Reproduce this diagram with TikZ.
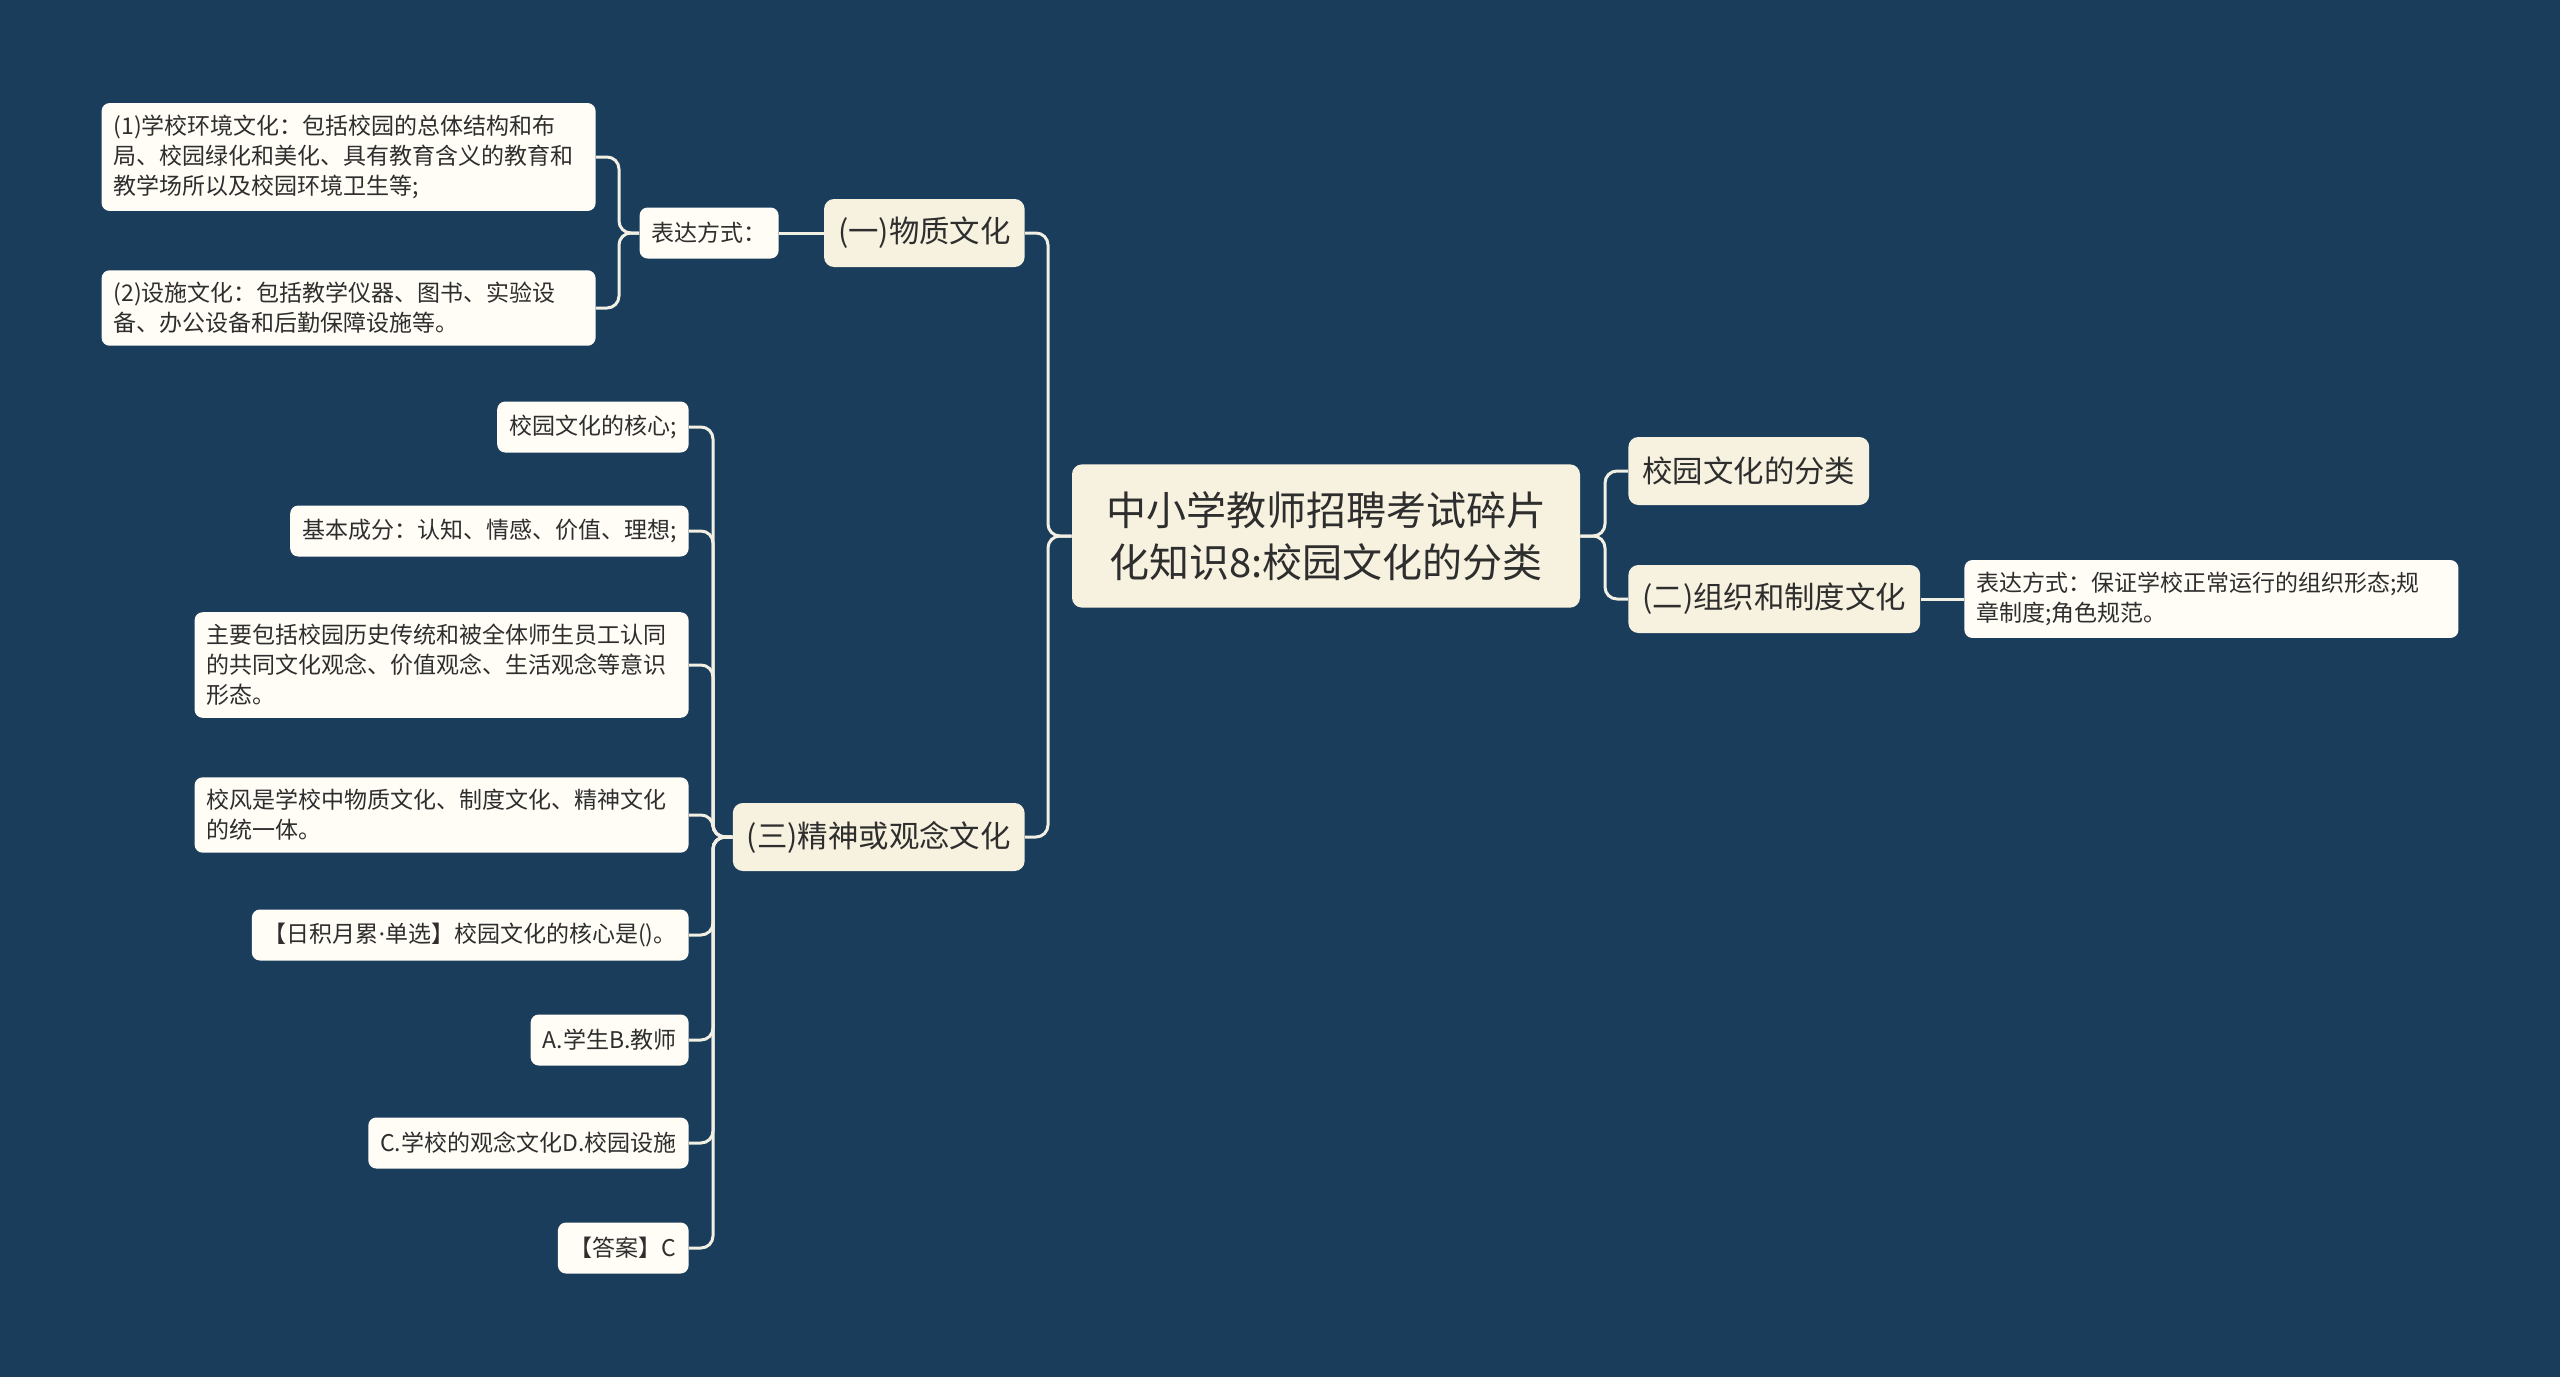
\documentclass[tikz,border=0pt]{standalone}
\usepackage{fontspec}
\setmainfont{Noto Sans CJK SC}
\newfontfamily\latinfont{Noto Sans}

\definecolor{bgblue}{HTML}{1A3D5C}
\definecolor{topicfill}{HTML}{F7F2DF}
\definecolor{leaffill}{HTML}{FFFDF6}
\definecolor{ink}{HTML}{2E2E2E}
\definecolor{wire}{HTML}{F2EFE3}

\tikzset{
    rootbox/.style={fill=topicfill, rounded corners=5pt, text=ink, align=center,
        font=\fontsize{20}{26}\selectfont, inner xsep=17pt, inner ysep=13.5pt},
    topicbox/.style={fill=topicfill, rounded corners=5pt, text=ink,
        font=\fontsize{15.2}{19}\selectfont, inner xsep=7pt, minimum height=34pt},
    leafbox/.style={fill=leaffill, rounded corners=4pt, text=ink, align=left,
        font=\fontsize{11.5}{15}\selectfont, inner xsep=6pt, inner ysep=6pt, minimum height=25.5pt},
    widebox/.style={leafbox, text width=235pt},
    link/.style={draw=wire, line width=1.5pt, rounded corners=6pt}
}

\begin{document}
\begin{tikzpicture}[x=0.5pt,y=-0.5pt]
        \fill[bgblue] (0,0) rectangle (2560,1377);
        \useasboundingbox (0,0) rectangle (2560,1377);

        \node[rootbox] (root) at (1326,536) {中小学教师招聘考试碎片\\化知识8:校园文化的分类};

        \node[topicbox,anchor=west] (cls) at (1628,471) {校园文化的分类};
        \node[topicbox,anchor=west] (zuzhi) at (1628,599) {(二)组织和制度文化};
        \node[widebox,anchor=west] (zuzhiway) at (1964,599) {表达方式：保证学校正常运行的组织形态;规\\章制度;角色规范。};

        \node[topicbox,anchor=east] (wuzhi) at (1025,233) {(一)物质文化};
        \node[leafbox,anchor=east] (wuzhiway) at (779,233) {表达方式：};
        \node[widebox,anchor=east] (env) at (596,157) {(1)学校环境文化：包括校园的总体结构和布\\局、校园绿化和美化、具有教育含义的教育和\\教学场所以及校园环境卫生等;};
        \node[widebox,anchor=east] (facil) at (596,308) {(2)设施文化：包括教学仪器、图书、实验设\\备、办公设备和后勤保障设施等。};

        \node[topicbox,anchor=east] (jingshen) at (1025,837) {(三)精神或观念文化};
        \node[leafbox,anchor=east] (core) at (689,427) {校园文化的核心;};
        \node[leafbox,anchor=east] (parts) at (689,531) {基本成分：认知、情感、价值、理想;};
        \node[widebox,anchor=east] (mainly) at (689,665) {主要包括校园历史传统和被全体师生员工认同\\的共同文化观念、价值观念、生活观念等意识\\形态。};
        \node[widebox,anchor=east] (xiaofeng) at (689,815) {校风是学校中物质文化、制度文化、精神文化\\的统一体。};
        \node[leafbox,anchor=east] (quiz) at (689,935) {【日积月累{\latinfont ·}单选】校园文化的核心是()。};
        \node[leafbox,anchor=east] (optab) at (689,1040) {A.学生B.教师};
        \node[leafbox,anchor=east] (optcd) at (689,1143) {C.学校的观念文化D.校园设施};
        \node[leafbox,anchor=east] (answer) at (689,1248) {【答案】C};

        \coordinate (rl) at (1048,536);
        \coordinate (rr) at (1605,536);
        \coordinate (t1) at (619,233);
        \coordinate (t3) at (713,837);

        \draw[link] (root.west) -- (rl) |- (wuzhi.east);
        \draw[link] (root.west) -- (rl) |- (jingshen.east);
        \draw[link] (root.east) -- (rr) |- (cls.west);
        \draw[link] (root.east) -- (rr) |- (zuzhi.west);
        \draw[link] (zuzhi.east) -- (zuzhiway.west);

        \draw[link] (wuzhi.west) -- (wuzhiway.east);
        \draw[link] (wuzhiway.west) -- (t1) |- (env.east);
        \draw[link] (wuzhiway.west) -- (t1) |- (facil.east);

        \draw[link] (jingshen.west) -- (t3) |- (core.east);
        \draw[link] (jingshen.west) -- (t3) |- (parts.east);
        \draw[link] (jingshen.west) -- (t3) |- (mainly.east);
        \draw[link] (jingshen.west) -- (t3) |- (xiaofeng.east);
        \draw[link] (jingshen.west) -- (t3) |- (quiz.east);
        \draw[link] (jingshen.west) -- (t3) |- (optab.east);
        \draw[link] (jingshen.west) -- (t3) |- (optcd.east);
        \draw[link] (jingshen.west) -- (t3) |- (answer.east);
    \end{tikzpicture}
\end{document}
